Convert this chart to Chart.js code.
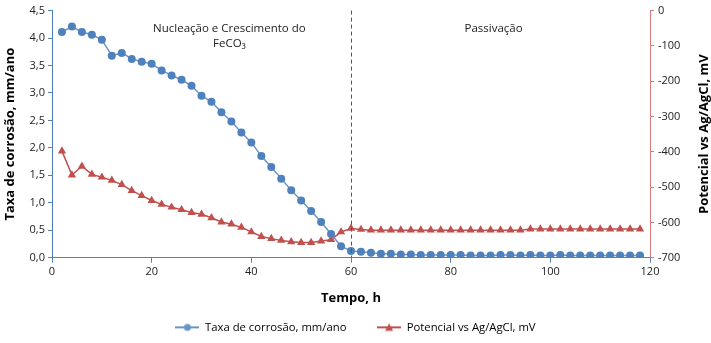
<!DOCTYPE html>
<html>
<head>
<meta charset="utf-8">
<script src="https://cdn.jsdelivr.net/npm/chart.js@4.4.1/dist/chart.umd.min.js"></script>
<style>
  html, body { margin: 0; padding: 0; background: #fff; }
  #chart { display: block; }
</style>
</head>
<body>
<canvas id="chart" width="711" height="343"></canvas>
<script>
// tempo (h)
var hours = [2, 4, 6, 8, 10, 12, 14, 16, 18, 20, 22, 24, 26, 28, 30, 32, 34, 36, 38, 40,
  42, 44, 46, 48, 50, 52, 54, 56, 58, 60, 62, 64, 66, 68, 70, 72, 74, 76, 78, 80,
  82, 84, 86, 88, 90, 92, 94, 96, 98, 100, 102, 104, 106, 108, 110, 112, 114, 116, 118];

// taxa de corrosao, mm/ano
var taxa = [4.11, 4.21, 4.11, 4.06, 3.97, 3.68, 3.73, 3.62, 3.57, 3.53, 3.41, 3.32, 3.24, 3.13, 2.95,
  2.84, 2.65, 2.48, 2.28, 2.10, 1.85, 1.65, 1.44, 1.23, 1.04, 0.85, 0.65, 0.43, 0.21, 0.12,
  0.11, 0.09, 0.07, 0.07, 0.06, 0.06, 0.05, 0.05, 0.05, 0.05, 0.05, 0.04, 0.04, 0.04, 0.05,
  0.05, 0.04, 0.05, 0.04, 0.04, 0.05, 0.04, 0.04, 0.04, 0.04, 0.04, 0.04, 0.04, 0.04];

// potencial vs Ag/AgCl, mV
var potencial = [-398, -466, -441, -464, -472, -481, -493, -510, -524, -538, -549, -557, -564, -572, -577,
  -587, -599, -605, -614, -627, -640, -646, -651, -655, -657, -657, -653, -649, -627, -617,
  -620, -622, -622, -622, -622, -622, -622, -622, -622, -622, -622, -622, -622, -622, -622,
  -622, -622, -619, -619, -619, -619, -619, -619, -619, -619, -619, -619, -619, -619];

var xTicks = [0, 20, 40, 60, 80, 100, 120];
var leftTicks = [0, 0.5, 1, 1.5, 2, 2.5, 3, 3.5, 4, 4.5];
var rightTicks = [0, -100, -200, -300, -400, -500, -600, -700];

var labelTaxa = "Taxa de corrosão, mm/ano";
var labelPot = "Potencial vs Ag/AgCl, mV";
var regionLabels = [
  { x: 35.6, lines: ["Nucleação e Crescimento do", "FeCO\u2083"] },
  { x: 88.6, lines: ["Passivação"] }
];
var divider = 60;

var blue = "#4f81bd";
var blueLine = "#6a94c8";
var red = "#c0504d";
var font = "'Open Sans', 'Noto Sans', sans-serif";

function legendIcon(color, shape) {
  var c = document.createElement("canvas");
  c.width = 24; c.height = 10;
  var g = c.getContext("2d");
  g.strokeStyle = color; g.lineWidth = 2;
  g.beginPath(); g.moveTo(0, 5); g.lineTo(24, 5); g.stroke();
  g.fillStyle = color;
  g.beginPath();
  if (shape === "circle") {
    g.arc(12, 5, 3.5, 0, Math.PI * 2);
  } else {
    g.moveTo(12, 1); g.lineTo(16, 8.5); g.lineTo(8, 8.5); g.closePath();
  }
  g.fill();
  return c;
}

var overlay = {
  id: "overlay",
  afterDraw: function (chart) {
    var ctx = chart.ctx, xs = chart.scales.x, ys = chart.scales.y, area = chart.chartArea;
    ctx.save();
    // linha tracejada
    var px = Math.round(xs.getPixelForValue(divider)) + 0.5;
    ctx.strokeStyle = "#555";
    ctx.lineWidth = 1;
    ctx.setLineDash([4, 3]);
    ctx.beginPath(); ctx.moveTo(px, area.top); ctx.lineTo(px, area.bottom); ctx.stroke();
    ctx.setLineDash([]);
    // textos das regioes
    ctx.fillStyle = "#222";
    ctx.font = "11.5px " + font;
    ctx.textAlign = "center";
    ctx.textBaseline = "middle";
    regionLabels.forEach(function (r) {
      var cx = xs.getPixelForValue(r.x);
      r.lines.forEach(function (t, i) {
        ctx.fillText(t, cx, ys.getPixelForValue(4.17) + i * 15);
      });
    });
    // titulo do eixo direito
    ctx.font = "bold 13px " + font;
    ctx.fillStyle = "#000";
    ctx.translate(704, (area.top + area.bottom) / 2);
    ctx.rotate(-Math.PI / 2);
    ctx.fillText(labelPot, 0, 0);
    ctx.restore();
  }
};

var ctx = document.getElementById("chart").getContext("2d");
var chart = new Chart(ctx, {
  type: "line",
  data: {
    datasets: [
      {
        label: labelTaxa,
        data: hours.map(function (h, i) { return { x: h, y: taxa[i] }; }),
        yAxisID: "y",
        borderColor: blueLine,
        backgroundColor: blue,
        borderWidth: 1.5,
        pointStyle: "circle",
        pointRadius: 4,
        pointBorderWidth: 0,
        pointBackgroundColor: blue,
        tension: 0,
        order: 1
      },
      {
        label: labelPot,
        data: hours.map(function (h, i) { return { x: h, y: potencial[i] }; }),
        yAxisID: "y2",
        borderColor: red,
        backgroundColor: red,
        borderWidth: 1.5,
        pointStyle: "triangle",
        pointRadius: 4.8,
        pointBorderWidth: 0,
        pointBackgroundColor: red,
        tension: 0,
        order: 2
      }
    ]
  },
  options: {
    responsive: false,
    animation: false,
    layout: { padding: { top: 9, right: 0, left: 0, bottom: 0 } },
    plugins: {
      tooltip: { enabled: false },
      legend: {
        position: "bottom",
        labels: {
          font: { family: font, size: 11.3 },
          color: "#222",
          usePointStyle: true,
          pointStyleWidth: 24,
          padding: 8,
          generateLabels: function (chart) {
            // espaços extras para separar os dois itens
            return [
              { text: labelTaxa + "\u2003\u2003", pointStyle: legendIcon(blueLine, "circle"), fillStyle: blue, strokeStyle: blue, lineWidth: 0, datasetIndex: 0 },
              { text: labelPot, pointStyle: legendIcon(red, "triangle"), fillStyle: red, strokeStyle: red, lineWidth: 0, datasetIndex: 1 }
            ];
          }
        }
      }
    },
    scales: {
      x: {
        type: "linear",
        min: 0,
        max: 120,
        afterBuildTicks: function (s) { s.ticks = xTicks.map(function (v) { return { value: v }; }); },
        afterFit: function (s) { s.height = 56; },
        border: { color: blue, width: 1 },
        grid: { drawOnChartArea: false, tickLength: 5, color: blue },
        ticks: { font: { family: font, size: 11 }, color: "#222", padding: 3, maxRotation: 0 },
        title: { display: true, text: "Tempo, h", font: { family: font, size: 13, weight: "bold" }, color: "#000", padding: { top: 0, bottom: 8 } }
      },
      y: {
        position: "left",
        min: 0,
        max: 4.5,
        afterBuildTicks: function (s) { s.ticks = leftTicks.map(function (v) { return { value: v }; }); },
        afterFit: function (s) { s.width = 52; },
        border: { color: blue, width: 1 },
        grid: { drawOnChartArea: false, tickLength: 4, color: blue },
        ticks: {
          font: { family: font, size: 11 }, color: "#222", padding: 3,
          callback: function (v) { return v.toFixed(1).replace(".", ","); }
        },
        title: { display: true, text: labelTaxa, font: { family: font, size: 13, weight: "bold" }, color: "#000", padding: { top: 2, bottom: 0 } }
      },
      y2: {
        position: "right",
        min: -700,
        max: 0,
        afterBuildTicks: function (s) { s.ticks = rightTicks.map(function (v) { return { value: v }; }); },
        afterFit: function (s) { s.width = 61; },
        border: { color: "#d9787a", width: 1 },
        grid: { drawOnChartArea: false, tickLength: 4, color: "#d9787a" },
        ticks: { font: { family: font, size: 11 }, color: "#222", padding: 4 }
      }
    }
  },
  plugins: [overlay]
});
</script>
</body>
</html>
